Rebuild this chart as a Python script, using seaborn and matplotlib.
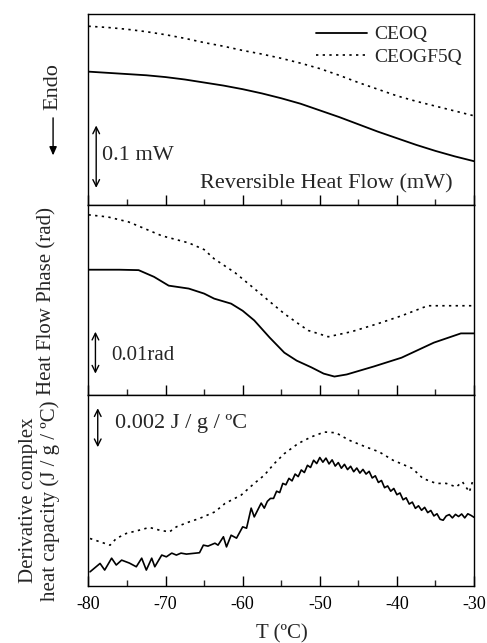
import matplotlib
matplotlib.use("Agg")
import matplotlib.pyplot as plt
from matplotlib.patches import FancyArrowPatch
import seaborn as sns

sns.set_theme(style="ticks")
plt.rcParams['font.family'] = ['Liberation Serif', 'DejaVu Serif']
plt.rcParams['axes.unicode_minus'] = False

# panel 1: reversible heat flow (mW)
t_rev = [-80, -77.5, -75, -72.5, -70, -67.5, -65, -62.5, -60, -57.5, -55,
         -52.5, -50, -47.5, -45, -42.5, -40, -37.5, -35, -32.5, -30]
rev_ceoq = [0.220, 0.218, 0.216, 0.214, 0.211, 0.207, 0.202, 0.197, 0.191, 0.184, 0.176,
            0.167, 0.156, 0.145, 0.133, 0.121, 0.110, 0.099, 0.089, 0.080, 0.072]
rev_ceogf5q = [0.295, 0.293, 0.290, 0.286, 0.281, 0.275, 0.268, 0.262, 0.255, 0.249, 0.242,
               0.234, 0.225, 0.214, 0.202, 0.191, 0.180, 0.171, 0.163, 0.155, 0.147]

# panel 2: heat flow phase (rad)
t_ph_a = [-80, -76, -73.5, -71.5, -69.6, -67, -65, -63.7, -61.5, -60, -58.5, -56.5,
          -54.6, -53, -51.1, -49.5, -48.1, -46.5, -43, -39.4, -35.2, -31.7, -30]
ph_ceoq = [0.0300, 0.0300, 0.0299, 0.0283, 0.0262, 0.0255, 0.0243, 0.0231, 0.0219,
           0.0202, 0.0179, 0.0138, 0.0102, 0.0083, 0.0067, 0.0052, 0.0045, 0.0050,
           0.0069, 0.0090, 0.0126, 0.0148, 0.0148]
t_ph_b = [-80, -77.5, -74.8, -72.7, -70.5, -67, -65, -63.7, -61, -58.5, -56.5, -54.6,
          -53, -51.5, -48.9, -45.9, -42.5, -39.4, -36, -30]
ph_ceogf5q = [0.0431, 0.0426, 0.0414, 0.0398, 0.0381, 0.0364, 0.0348, 0.0326, 0.0293,
              0.0255, 0.0224, 0.0195, 0.0174, 0.0155, 0.0140, 0.0152, 0.0171, 0.0190,
              0.0214, 0.0214]

# panel 3: derivative complex heat capacity (1e-3 J/g/ºC)
t_cp_a = [-79.8, -78.5, -77.9, -77.0, -76.4, -75.7, -74.7, -73.8, -73.1, -72.5, -71.8,
          -71.4, -70.5, -69.9, -69.2, -68.6, -68.0, -67.3, -65.6, -65.1, -64.5, -63.6,
          -63.2, -62.5, -62.1, -61.5, -60.8, -60.0, -59.5, -58.9, -58.5, -57.6, -57.2,
          -56.8,
          -56.4, -56.0, -55.6, -55.2, -54.8, -54.4, -54.0, -53.6, -53.2, -52.8, -52.4,
          -52.0, -51.6, -51.2, -50.8, -50.4, -50.0, -49.6, -49.2, -48.8, -48.4, -48.0,
          -47.6, -47.2, -46.8, -46.4, -46.0, -45.6, -45.2, -44.8, -44.4, -44.0, -43.6,
          -43.2, -42.8, -42.4, -42.0, -41.6, -41.2, -40.8, -40.4, -40.0, -39.6, -39.2,
          -38.8, -38.4, -38.0, -37.6, -37.2, -36.8, -36.4, -36.0, -35.6, -35.2, -34.8,
          -34.4, -34.0, -33.6, -33.2, -32.8, -32.4, -32.0, -31.6, -31.2, -30.8, -30.4,
          -30.0]
cp_ceoq = [0.68, 1.11, 0.77, 1.38, 1.03, 1.28, 1.13, 0.94, 1.38, 0.77, 1.38,
           0.94, 1.54, 1.45, 1.64, 1.54, 1.64, 1.59, 1.66, 2.05, 2.00, 2.15,
           2.05, 2.48, 1.96, 2.56, 2.41, 2.99, 2.92, 3.95, 3.50, 4.21, 3.95,
           4.30,
           4.45, 4.45, 4.82, 4.75, 5.22, 5.15, 5.48, 5.35, 5.70, 5.57, 5.91,
           5.78, 6.15, 6.04, 6.41, 6.24, 6.55, 6.31, 6.52, 6.22, 6.43, 6.11,
           6.29, 6.00, 6.20, 5.93, 6.10, 5.82, 6.01, 5.75, 5.94, 5.70, 5.84,
           5.50, 5.61, 5.27, 5.37, 5.00, 5.09, 4.82, 4.96, 4.64, 4.73, 4.38,
           4.48, 4.16, 4.26, 3.94, 4.07, 3.84, 3.99, 3.72, 3.83, 3.55, 3.66,
           3.38, 3.33, 3.55, 3.62, 3.45, 3.63, 3.52, 3.65, 3.45, 3.66, 3.58,
           3.48]
t_cp_b = [-79.8, -78.5, -77.2, -76.4, -75.1, -73.4, -72.1, -70.8, -69.5, -68.6, -66.9,
          -65.6, -63.6, -62.3, -60.2, -58.5, -57.2, -55.9, -54.6, -52.8, -51.1, -49.4,
          -47.9, -46.2, -44.0, -42.3, -40.5, -38.0, -36.6, -34.9, -33.6, -32.3, -31.5,
          -30.6, -30.2]
cp_ceogf5q = [2.39, 2.22, 2.05, 2.39, 2.65, 2.82, 2.96, 2.82, 2.73, 2.99, 3.25,
              3.42, 3.76, 4.19, 4.62, 5.22, 5.64, 6.24, 6.75, 7.27, 7.61, 7.86,
              7.82, 7.44, 7.09, 6.84, 6.41, 5.99, 5.47, 5.22, 5.22, 5.04, 5.30,
              4.78, 5.30]

dotted = (0, (1.4, 2.6))
solid_kw = dict(color="black", lw=1.3)
dot_kw = dict(color="black", lw=1.2, linestyle=dotted)

fig, axes = plt.subplots(3, 1, figsize=(4.87, 6.43), dpi=100, sharex=True)
fig.subplots_adjust(left=0.1817, right=0.9733, top=0.978, bottom=0.0886, hspace=0)
ax1, ax2, ax3 = axes

sns.lineplot(x=t_rev, y=rev_ceoq, ax=ax1, label="CEOQ", **solid_kw)
sns.lineplot(x=t_rev, y=rev_ceogf5q, ax=ax1, label="CEOGF5Q", **dot_kw)
sns.lineplot(x=t_ph_a, y=ph_ceoq, ax=ax2, **solid_kw)
sns.lineplot(x=t_ph_b, y=ph_ceogf5q, ax=ax2, **dot_kw)
sns.lineplot(x=t_cp_a, y=cp_ceoq, ax=ax3, color="black", lw=1.2)
sns.lineplot(x=t_cp_b, y=cp_ceogf5q, ax=ax3, **dot_kw)

ax1.set_ylim(0, 0.315)
ax2.set_ylim(0, 0.0455)
ax3.set_ylim(-0.05, 9.74)
ax3.set_xlim(-80, -30)
ax3.set_xticks([-80, -70, -60, -50, -40, -30])
ax3.set_xticks([-75, -65, -55, -45, -35], minor=True)

for ax in axes:
    ax.set_yticks([])
    for s in ax.spines.values():
        s.set_linewidth(1.0)
        s.set_color("black")
    ax.tick_params(axis="x", which="major", direction="in", length=7, width=1.0,
                   top=False, labelsize=13, pad=7, colors="black")
    ax.tick_params(axis="x", which="minor", direction="in", length=4, width=1.0,
                   top=False)

ax1.legend(loc="upper right", frameon=False, fontsize=14, handlelength=2.6,
           handletextpad=0.4, labelspacing=0.25, borderaxespad=0.2)

arrow = dict(arrowstyle="<->", color="black", lw=1.0, shrinkA=0, shrinkB=0)
ax1.annotate("", xy=(-79.0, 0.028), xytext=(-79.0, 0.131), arrowprops=arrow)
ax1.text(-78.3, 0.082, "0.1 mW", fontsize=16, va="center")
ax1.text(-32.8, 0.035, "Reversible Heat Flow (mW)", fontsize=16, va="center", ha="right")

ax2.annotate("", xy=(-79.1, 0.0052), xytext=(-79.1, 0.0152), arrowprops=arrow)
ax2.text(-77.0, 0.0095, "0.01rad", fontsize=15, va="center")

ax3.annotate("", xy=(-78.8, 7.08), xytext=(-78.8, 9.08), arrowprops=arrow)
ax3.text(-76.6, 8.3, "0.002 J / g / ºC", fontsize=16, va="center")

fig.text(0.109, 0.866, "Endo", rotation=90, fontsize=16, ha="center", va="center")
fig.add_artist(FancyArrowPatch(
    (0.109, 0.821), (0.109, 0.754), transform=fig.transFigure,
    arrowstyle="-|>,head_length=5,head_width=2.2", color="black", lw=1.0))
fig.text(0.0965, 0.532, "Heat Flow Phase (rad)", rotation=90, fontsize=15,
         ha="center", va="center")
fig.text(0.081, 0.222, "Derivative complex\nheat capacity (J / g / ºC)", rotation=90,
         fontsize=15, ha="center", va="center", multialignment="center", linespacing=1.1)
fig.text(0.578, 0.014, "T (ºC)", fontsize=15, ha="center", va="center")

fig.savefig("out.png", dpi=100)
